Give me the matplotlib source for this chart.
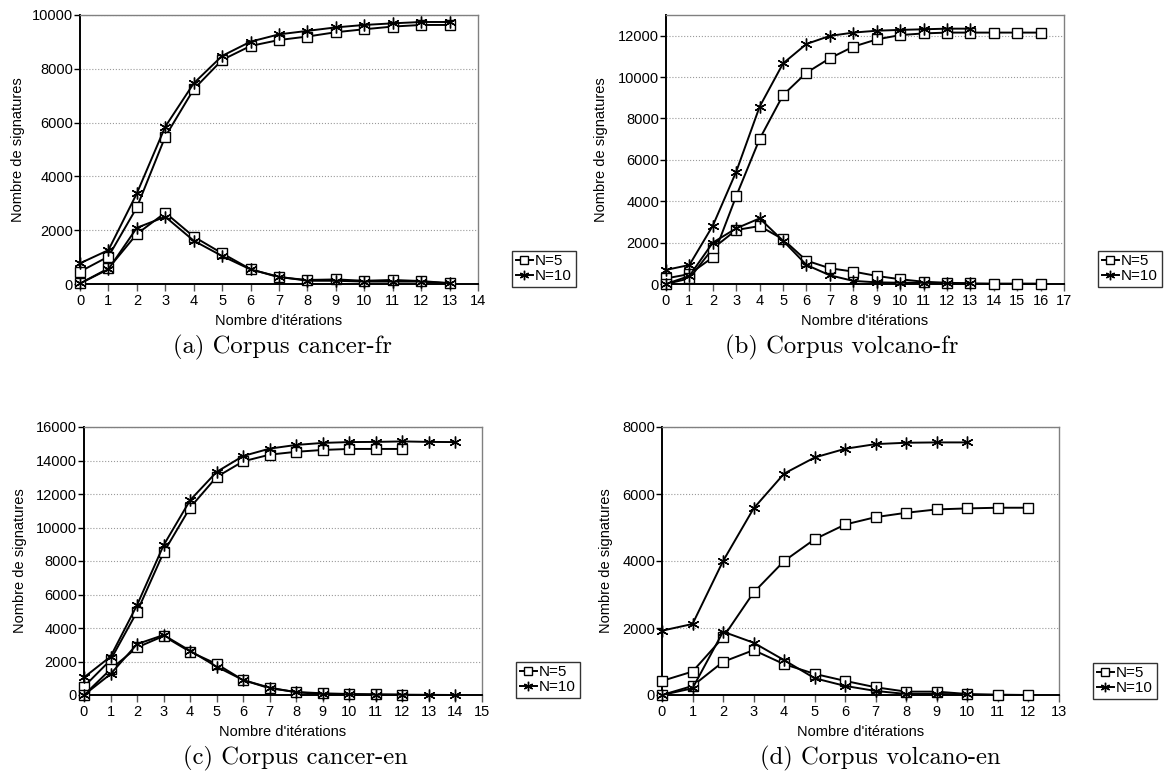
import numpy as np
import matplotlib.pyplot as plt
# ================================================
# DATA
# ================================================
a_n5_total  = [460, 1020, 2850, 5480, 7240, 8330, 8850, 9070, 9200, 9360, 9470, 9570, 9630, 9630]
a_n10_total = [770, 1260, 3370, 5850, 7460, 8480, 9010, 9280, 9410, 9540, 9630, 9690, 9740, 9740]
a_n5_new    = [20, 580, 1860, 2650, 1760, 1140, 550, 250, 150, 170, 120, 150, 110, 30]
a_n10_new   = [20, 550, 2090, 2500, 1610, 1040, 540, 270, 120, 120, 90, 90, 90, 30]

b_n5_total  = [270, 480, 1290, 4250, 7010, 9130, 10210, 10910, 11470, 11820, 12030, 12110, 12150, 12150, 12150, 12150, 12150]
b_n10_total = [680, 920, 2820, 5430, 8570, 10660, 11600, 11990, 12150, 12240, 12280, 12310, 12340, 12340]
b_n5_new    = [0, 270, 1720, 2610, 2800, 2160, 1130, 760, 600, 390, 230, 110, 60, 30, 20, 20, 20]
b_n10_new   = [0, 390, 2000, 2690, 3170, 2090, 920, 420, 150, 80, 60, 60, 30, 30]

c_n5_total  = [500, 2090, 4970, 8510, 11190, 13020, 13950, 14350, 14520, 14630, 14690, 14690, 14690]
c_n10_total = [1050, 2290, 5370, 8940, 11630, 13320, 14270, 14710, 14930, 15050, 15100, 15110, 15140, 15110, 15100]
c_n5_new    = [0, 1530, 2840, 3520, 2580, 1850, 890, 400, 180, 100, 60, 40, 20]
c_n10_new   = [0, 1250, 3040, 3580, 2640, 1690, 890, 440, 160, 60, 40, 20, 20, 10, 0]

d_n5_total  = [420, 700, 1720, 3060, 4000, 4650, 5090, 5310, 5440, 5540, 5570, 5590, 5590]
d_n10_total = [1920, 2120, 4000, 5570, 6610, 7090, 7350, 7490, 7530, 7540, 7540]
d_n5_new    = [0, 270, 990, 1340, 920, 630, 420, 230, 100, 100, 30, 10, 0]
d_n10_new   = [0, 200, 1890, 1560, 1040, 500, 270, 120, 30, 30, 20]

captions = ['(a) Corpus cancer-fr', '(b) Corpus volcano-fr',
            '(c) Corpus cancer-en', '(d) Corpus volcano-en']
labels   = ['N=5', 'N=10']
# ================================================
W, H = 1170, 781
plt.rcParams['font.family'] = ['Liberation Sans', 'DejaVu Sans']
plt.rcParams['font.size'] = 10.5

fig = plt.figure(figsize=(W/100, H/100), dpi=100)

# panel geometry in pixels: left, top, right, bottom, xmax, ymax, ylabel offset, legend x, legend bottom, caption x
panels = [
    (80, 15, 478, 284, 14, 10000, 55, 512, 287, 282,
     a_n5_total, a_n10_total, a_n5_new, a_n10_new),
    (666, 15, 1064, 284, 17, 13000, 58, 1098, 287, 842,
     b_n5_total, b_n10_total, b_n5_new, b_n10_new),
    (84, 427, 482, 695, 15, 16000, 57, 516, 698, 295,
     c_n5_total, c_n10_total, c_n5_new, c_n10_new),
    (662, 427, 1059, 695, 13, 8000, 49, 1093, 699, 880,
     d_n5_total, d_n10_total, d_n5_new, d_n10_new),
]

sq = dict(marker='s', markersize=6.5, mfc='white', mec='black', mew=1.0)
st = dict(marker=(6, 2, 0), markersize=8.5, mec='black', mew=1.0)

for k, (l, t, r, b, xmax, ymax, yoff, lx, lb, cx, n5t, n10t, n5n, n10n) in enumerate(panels):
    ax = fig.add_axes([l/W, 1 - b/H, (r - l)/W, (b - t)/H])
    ax.set_xlim(0, xmax)
    ax.set_ylim(0, ymax)
    ax.set_xticks(range(0, xmax + 1))
    ax.set_yticks(range(0, ymax + 1, 2000) if ymax % 2000 == 0 else range(0, ymax, 2000))
    ax.yaxis.grid(True, ls=':', lw=0.8, c='#9a9a9a')
    ax.set_axisbelow(True)
    for s in ['top', 'right']:
        ax.spines[s].set_color('#808080')
        ax.spines[s].set_linewidth(1.0)
    for s in ['left', 'bottom']:
        ax.spines[s].set_color('black')
        ax.spines[s].set_linewidth(1.4)
    ax.tick_params(axis='x', direction='out', length=5, width=1, color='#555555', pad=2)
    ax.tick_params(axis='y', direction='out', length=4, width=1, color='black', pad=1)

    h5 = ax.plot(range(len(n5t)), n5t, c='black', lw=1.4, clip_on=False, zorder=3, **sq)[0]
    ax.plot(range(len(n5n)), n5n, c='black', lw=1.4, clip_on=False, zorder=3, **sq)
    h10 = ax.plot(range(len(n10t)), n10t, c='black', lw=1.4, clip_on=False, zorder=4, **st)[0]
    ax.plot(range(len(n10n)), n10n, c='black', lw=1.4, clip_on=False, zorder=4, **st)

    ax.set_xlabel("Nombre d'itérations")
    ax.xaxis.set_label_coords(0.5, -30/(b - t))
    ax.set_ylabel('Nombre de signatures')
    ax.yaxis.set_label_coords(-yoff/(r - l), 0.5)

    leg = fig.legend([h5, h10], labels, loc='lower left',
                     bbox_to_anchor=(lx/W, 1 - lb/H), frameon=True, fancybox=False,
                     handlelength=1.1, handletextpad=0.15, borderpad=0.25,
                     labelspacing=0.05, borderaxespad=0, markerscale=0.8,
                     fontsize=11)
    leg.get_frame().set_edgecolor('black')
    leg.get_frame().set_linewidth(1.0)

    fig.text(cx/W, 1 - (b + 63)/H, captions[k], family='cmr10', fontsize=17.8,
             ha='center', va='center')

plt.savefig('out.png', dpi=100)
plt.close()
